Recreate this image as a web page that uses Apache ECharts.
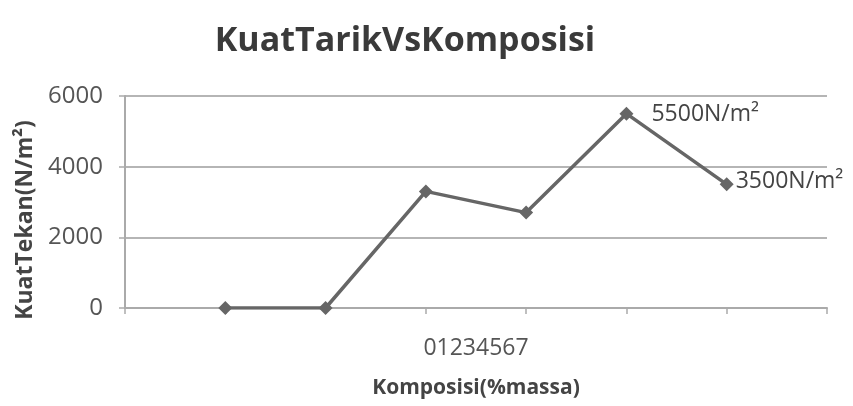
<!DOCTYPE html>
<html>
<head>
<meta charset="utf-8">
<script src="https://cdn.jsdelivr.net/npm/echarts@6/dist/echarts.min.js"></script>
<style>
  html, body { margin: 0; padding: 0; background: #fff; }
  #main { width: 853px; height: 406px; }
</style>
</head>
<body>
<div id="main"></div>
<script>
// data
var slotLabels = ['', '', '', '01234567', '', '', ''];   // 7 slots, one odd label
var xPos = [1, 2, 3, 4, 5, 6];
var kuatTekan = [0, 0, 3300, 2700, 5500, 3500];
var pointLabels = ['', '', '', '', '5500N/m²', '3500N/m²'];

var grey = '#666';
var font = '"Open Sans", sans-serif';

var chart = echarts.init(document.getElementById('main'));

var points = xPos.map(function (x, i) {
    return {
        value: [x, kuatTekan[i]],
        label: {
            show: pointLabels[i] !== '',
            offset: i === 4 ? [12, 1] : [-4, -3]
        }
    };
});

chart.setOption({
    animation: false,
    title: {
        text: 'KuatTarikVsKomposisi',
        left: 400,
        top: 19,
        textAlign: 'center',
        textStyle: { fontFamily: font, fontSize: 34, fontWeight: 'bold', color: '#3a3a3a' }
    },
    grid: { left: 125, right: 26, top: 96, bottom: 98 },
    xAxis: [{
        type: 'category',
        data: slotLabels,
        boundaryGap: true,
        name: 'Komposisi(%massa)',
        nameLocation: 'middle',
        nameGap: 70,
        nameTextStyle: { fontFamily: font, fontSize: 21, fontWeight: 'bold', color: '#444' },
        axisLine: { lineStyle: { color: '#aaa', width: 2 } },
        axisTick: { show: true, length: 6, lineStyle: { color: '#aaa', width: 1.5 } },
        axisLabel: { interval: 0, margin: 29, fontFamily: font, fontSize: 23, color: '#555' },
        splitLine: { show: false }
    }, {
        type: 'value',
        min: 0,
        max: 7,
        show: false
    }],
    yAxis: {
        type: 'value',
        min: 0,
        max: 6000,
        interval: 2000,
        name: 'KuatTekan(N/m²)',
        nameLocation: 'middle',
        nameGap: 88,
        nameTextStyle: {
            fontFamily: font, fontSize: 23, fontWeight: 'bold', color: '#444',
            padding: [0, 36, 0, 0]
        },
        axisLine: { show: true, lineStyle: { color: '#aaa', width: 2 } },
        axisTick: { show: true, length: 6, lineStyle: { color: '#aaa', width: 1.5 } },
        axisLabel: {
            margin: 22,
            fontFamily: font,
            fontSize: 24,
            color: '#555',
            formatter: function (v) { return String(v); }
        },
        splitLine: { lineStyle: { color: '#b5b5b5', width: 2 } }
    },
    series: [{
        type: 'line',
        xAxisIndex: 1,
        data: points,
        symbol: 'diamond',
        symbolSize: 14,
        lineStyle: { color: grey, width: 3.5 },
        itemStyle: { color: grey },
        label: {
            position: 'right',
            distance: 6,
            fontFamily: font,
            fontSize: 23,
            color: '#444',
            formatter: function (p) { return pointLabels[p.dataIndex]; }
        }
    }]
});
</script>
</body>
</html>
